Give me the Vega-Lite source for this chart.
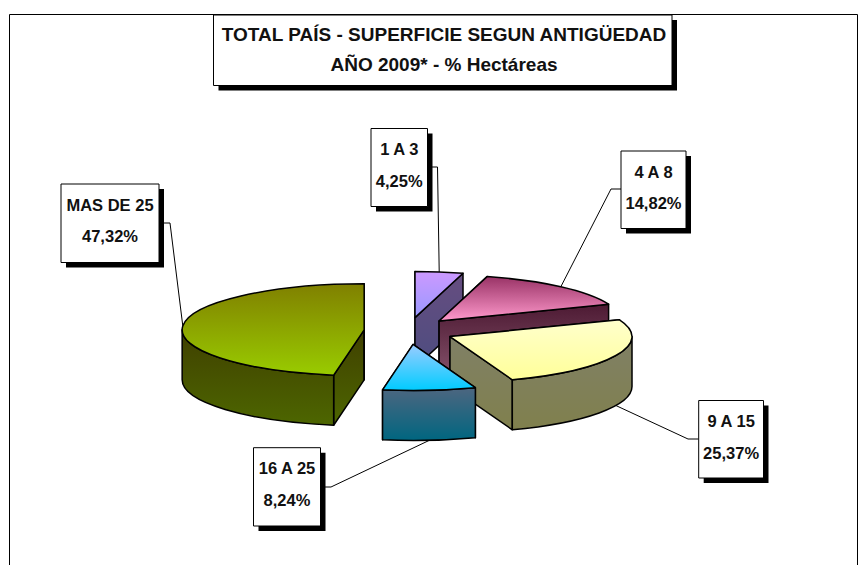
{
"$schema":"https://vega.github.io/schema/vega-lite/v6.json",
"width":848,"height":551,
"padding":{"left":9,"top":14,"right":8,"bottom":0},
"autosize":"none",
"background":"white",
"config":{"view":{"stroke":"#000","strokeWidth":1},"axis":{"disable":true},"text":{"font":"Liberation Sans","fontWeight":"bold","color":"#111"}},
"data":{"values":[
{"label":"1 A 3","pct":4.25,"orden":1},
{"label":"4 A 8","pct":14.82,"orden":2},
{"label":"9 A 15","pct":25.37,"orden":3},
{"label":"16 A 25","pct":8.24,"orden":4},
{"label":"MAS DE 25","pct":47.32,"orden":5}
]},
"transform":[
{"window":[{"op":"sum","field":"pct","as":"cum"}],"sort":[{"field":"orden"}]},
{"calculate":"(datum.cum-datum.pct)/100*2*PI","as":"A1"},
{"calculate":"datum.cum/100*2*PI","as":"A2"},
{"calculate":"(datum.A1+datum.A2)/2","as":"M"},
{"calculate":"45*sin(datum.M)","as":"ax"},
{"calculate":"-13.5*cos(datum.M)","as":"ay"},
{"calculate":"round(182*sin(datum.A1)*100)/100","as":"x1"},
{"calculate":"round(-46*cos(datum.A1)*100)/100","as":"y1"},
{"calculate":"round(182*sin(datum.A2)*100)/100","as":"x2"},
{"calculate":"round(-46*cos(datum.A2)*100)/100","as":"y2"},
{"calculate":"max(datum.A1,PI/2)","as":"oa1"},
{"calculate":"min(datum.A2,3*PI/2)","as":"oa2"},
{"calculate":"round(182*sin(datum.oa1)*100)/100","as":"ox1"},
{"calculate":"round(-46*cos(datum.oa1)*100)/100","as":"oy1"},
{"calculate":"round(182*sin(datum.oa2)*100)/100","as":"ox2"},
{"calculate":"round(-46*cos(datum.oa2)*100)/100","as":"oy2"},
{"calculate":"datum.ax+182*sin(datum.M)","as":"ex"},
{"calculate":"datum.ay-46*cos(datum.M)+(cos(datum.M)<0?50:0)","as":"ey"},
{"calculate":"{'1 A 3':[-38,18.5,-202.5,-124.5,23,28.5,-164],'4 A 8':[212,277,-180,-102.5,212,202,-142],'9 A 15':[289.7,354.5,69.5,147,289.7,279,108],'16 A 25':[-155.5,-88.5,116.7,195,-88.5,-78,156],'MAS DE 25':[-348,-250,-147,-68.5,-245,-239,-108]}[datum.label]","as":"box"},
{"calculate":"datum.box[0]","as":"bx1"},
{"calculate":"datum.box[1]","as":"bx2"},
{"calculate":"datum.box[2]","as":"by1"},
{"calculate":"datum.box[3]","as":"by2"},
{"calculate":"datum.box[4]","as":"lx1"},
{"calculate":"datum.box[5]","as":"lx2"},
{"calculate":"datum.box[6]","as":"ly"},
{"calculate":"(datum.bx1+datum.bx2)/2","as":"bxc"},
{"calculate":"datum.by1+21.5","as":"t1"},
{"calculate":"datum.by1+53","as":"t2"},
{"calculate":"datum.bx1+5","as":"sx1"},
{"calculate":"datum.bx2+5","as":"sx2"},
{"calculate":"datum.by1+5","as":"sy1"},
{"calculate":"datum.by2+5","as":"sy2"},
{"calculate":"replace(format(datum.pct,'.2f'),'.',',')+'%'","as":"pctText"}
],
"layer":[
{"data":{"values":[{"x1":-190.5,"x2":268,"y1":-311,"y2":-240.5}]},
 "mark":{"type":"rect","fill":"#000"},
 "encoding":{"x":{"field":"x1","type":"quantitative","scale":{"domain":[-400,448]}},"x2":{"field":"x2"},"y":{"field":"y1","type":"quantitative","scale":{"domain":[234,-317]}},"y2":{"field":"y2"}}},
{"data":{"values":[{"x1":-195.5,"x2":263,"y1":-316,"y2":-245.5}]},
 "mark":{"type":"rect","fill":"#fff","stroke":"#000","strokeWidth":1},
 "encoding":{"x":{"field":"x1","type":"quantitative","scale":{"domain":[-400,448]}},"x2":{"field":"x2"},"y":{"field":"y1","type":"quantitative","scale":{"domain":[234,-317]}},"y2":{"field":"y2"}}},
{"data":{"values":[{"t":"TOTAL PAÍS - SUPERFICIE SEGUN ANTIGÜEDAD","x":35,"y":-296},{"t":"AÑO 2009* - % Hectáreas","x":35,"y":-266}]},
 "mark":{"type":"text","fontSize":19,"align":"center","baseline":"middle"},
 "encoding":{"x":{"field":"x","type":"quantitative","scale":{"domain":[-400,448]}},"y":{"field":"y","type":"quantitative","scale":{"domain":[234,-317]}},"text":{"field":"t"}}},
{"mark":{"type":"rule","color":"#000","strokeWidth":1},
 "encoding":{"x":{"field":"lx1","type":"quantitative","scale":{"domain":[-400,448]}},"x2":{"field":"lx2"},"y":{"field":"ly","type":"quantitative","scale":{"domain":[234,-317]}},"y2":{"field":"ly"}}},
{"mark":{"type":"rule","color":"#000","strokeWidth":1},
 "encoding":{"x":{"field":"lx2","type":"quantitative","scale":{"domain":[-400,448]}},"x2":{"field":"ex"},"y":{"field":"ly","type":"quantitative","scale":{"domain":[234,-317]}},"y2":{"field":"ey"}}},
{"transform":[
 {"calculate":"'M0,0L'+datum.x1+','+datum.y1+'L'+datum.x1+','+(datum.y1+50)+'L0,50Z'","as":"pa"},
 {"calculate":"'M0,0L'+datum.x2+','+datum.y2+'L'+datum.x2+','+(datum.y2+50)+'L0,50Z'","as":"pb"},
 {"calculate":"datum.oa2>datum.oa1?'M'+datum.ox1+','+datum.oy1+'A182,46 0 0 1 '+datum.ox2+','+datum.oy2+'L'+datum.ox2+','+(datum.oy2+50)+'A182,46 0 0 0 '+datum.ox1+','+(datum.oy1+50)+'Z':'M0,0Z'","as":"po"},
 {"calculate":"'M0,0L'+datum.x1+','+datum.y1+'A182,46 0 '+(datum.A2-datum.A1>PI?1:0)+' 1 '+datum.x2+','+datum.y2+'Z'","as":"pt"},
 {"fold":["pa","pb","po","pt"]},
 {"calculate":"indexof(['1 A 3','MAS DE 25','4 A 8','9 A 15','16 A 25'],datum.label)*10+indexof(['pa','pb','po','pt'],datum.key)","as":"z"}
 ],
 "mark":{"type":"point","filled":true,"size":4,"opacity":1,"stroke":"#000","strokeWidth":1.5,"strokeJoin":"round"},
 "encoding":{
 "x":{"field":"ax","type":"quantitative","scale":{"domain":[-400,448]}},
 "y":{"field":"ay","type":"quantitative","scale":{"domain":[234,-317]}},
 "shape":{"field":"value","type":"nominal","scale":null,"legend":null},
 "order":{"field":"z","type":"quantitative"},
 "fill":{"condition":[
  {"test":"datum.label==='1 A 3'&&datum.key==='pt'","value":{"gradient":"linear","x1":0,"y1":0,"x2":0,"y2":1,"stops":[{"offset":0,"color":"#cc99ff"},{"offset":1,"color":"#9999ff"}]}},
  {"test":"datum.label==='4 A 8'&&datum.key==='pt'","value":{"gradient":"linear","x1":0,"y1":0,"x2":0,"y2":1,"stops":[{"offset":0,"color":"#993366"},{"offset":1,"color":"#ff99cc"}]}},
  {"test":"datum.label==='9 A 15'&&datum.key==='pt'","value":{"gradient":"linear","x1":0,"y1":0,"x2":0,"y2":1,"stops":[{"offset":0,"color":"#ffffcc"},{"offset":1,"color":"#ffff99"}]}},
  {"test":"datum.label==='16 A 25'&&datum.key==='pt'","value":{"gradient":"linear","x1":0,"y1":0,"x2":0,"y2":1,"stops":[{"offset":0,"color":"#99ccff"},{"offset":1,"color":"#00ccff"}]}},
  {"test":"datum.label==='MAS DE 25'&&datum.key==='pt'","value":{"gradient":"linear","x1":0,"y1":0,"x2":0,"y2":1,"stops":[{"offset":0,"color":"#808000"},{"offset":1,"color":"#99cc00"}]}},
  {"test":"datum.label==='1 A 3'","value":{"gradient":"linear","x1":0,"y1":0,"x2":0,"y2":1,"stops":[{"offset":0,"color":"#664d80"},{"offset":1,"color":"#4d4d80"}]}},
  {"test":"datum.label==='4 A 8'","value":{"gradient":"linear","x1":0,"y1":0,"x2":0,"y2":1,"stops":[{"offset":0,"color":"#4d1a33"},{"offset":1,"color":"#804d66"}]}},
  {"test":"datum.label==='9 A 15'","value":{"gradient":"linear","x1":0,"y1":0,"x2":0,"y2":1,"stops":[{"offset":0,"color":"#808066"},{"offset":1,"color":"#80804d"}]}},
  {"test":"datum.label==='16 A 25'","value":{"gradient":"linear","x1":0,"y1":0,"x2":0,"y2":1,"stops":[{"offset":0,"color":"#4d6680"},{"offset":1,"color":"#006680"}]}}
 ],"value":{"gradient":"linear","x1":0,"y1":0,"x2":0,"y2":1,"stops":[{"offset":0,"color":"#404000"},{"offset":1,"color":"#4d6600"}]}}
 }},
{"mark":{"type":"rect","fill":"#000"},
 "encoding":{"x":{"field":"sx1","type":"quantitative","scale":{"domain":[-400,448]}},"x2":{"field":"sx2"},"y":{"field":"sy1","type":"quantitative","scale":{"domain":[234,-317]}},"y2":{"field":"sy2"}}},
{"mark":{"type":"rect","fill":"#fff","stroke":"#000","strokeWidth":1},
 "encoding":{"x":{"field":"bx1","type":"quantitative","scale":{"domain":[-400,448]}},"x2":{"field":"bx2"},"y":{"field":"by1","type":"quantitative","scale":{"domain":[234,-317]}},"y2":{"field":"by2"}}},
{"mark":{"type":"text","fontSize":16.5,"align":"center","baseline":"middle"},
 "encoding":{"x":{"field":"bxc","type":"quantitative","scale":{"domain":[-400,448]}},"y":{"field":"t1","type":"quantitative","scale":{"domain":[234,-317]}},"text":{"field":"label"}}},
{"mark":{"type":"text","fontSize":16.5,"align":"center","baseline":"middle"},
 "encoding":{"x":{"field":"bxc","type":"quantitative","scale":{"domain":[-400,448]}},"y":{"field":"t2","type":"quantitative","scale":{"domain":[234,-317]}},"text":{"field":"pctText"}}}
]
}
